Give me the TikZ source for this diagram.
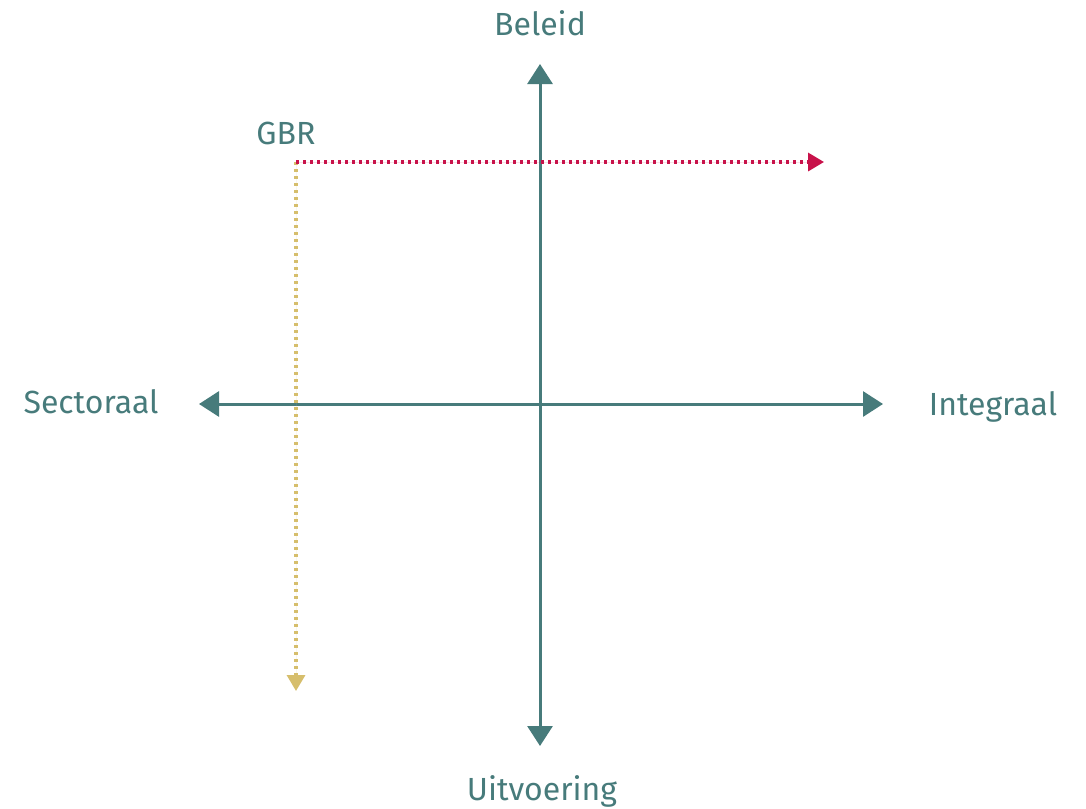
\documentclass[tikz,border=0pt]{standalone}
\usepackage{fontspec}
\setmainfont{Fira Sans}
\usetikzlibrary{arrows.meta}
\definecolor{teal1}{HTML}{477B7B}
\definecolor{red1}{HTML}{C8124A}
\definecolor{yel1}{HTML}{D6BE6C}
\begin{document}
\begin{tikzpicture}[x=1pt,y=-1pt,
  axis/.style={draw=teal1,line width=3pt,{Triangle[length=20pt,width=25pt]}-{Triangle[length=20pt,width=25pt]}},
  dotline/.style={line width=3.4pt,dash pattern=on 3.4pt off 3.6pt,-{Triangle[length=16pt,width=18pt]}},
  lbl/.style={text=teal1,font=\fontsize{32}{36}\selectfont,inner sep=0pt}]
\useasboundingbox (0,0) rectangle (1086,808);
\coordinate (top) at (540,64);
\coordinate (bot) at (540,746);
\coordinate (lft) at (199,404);
\coordinate (rgt) at (883,404);
\coordinate (o) at (296,162);
\coordinate (rend) at (824,162);
\coordinate (yend) at (296,691);
\draw[axis] (bot) -- (top);
\draw[axis] (lft) -- (rgt);
\draw[dotline,draw=yel1,fill=yel1] (o) -- (yend);
\draw[dotline,draw=red1,fill=red1] (o) -- (rend);
\node[lbl] (beleid) at (540,23) {Beleid};
\node[lbl] (gbr) at (286,133) {GBR};
\node[lbl] (sect) at (91,402) {Sectoraal};
\node[lbl] (integ) at (993,407) {Integraal};
\node[lbl] (uitv) at (542,791) {Uitvoering};
\end{tikzpicture}
\end{document}
